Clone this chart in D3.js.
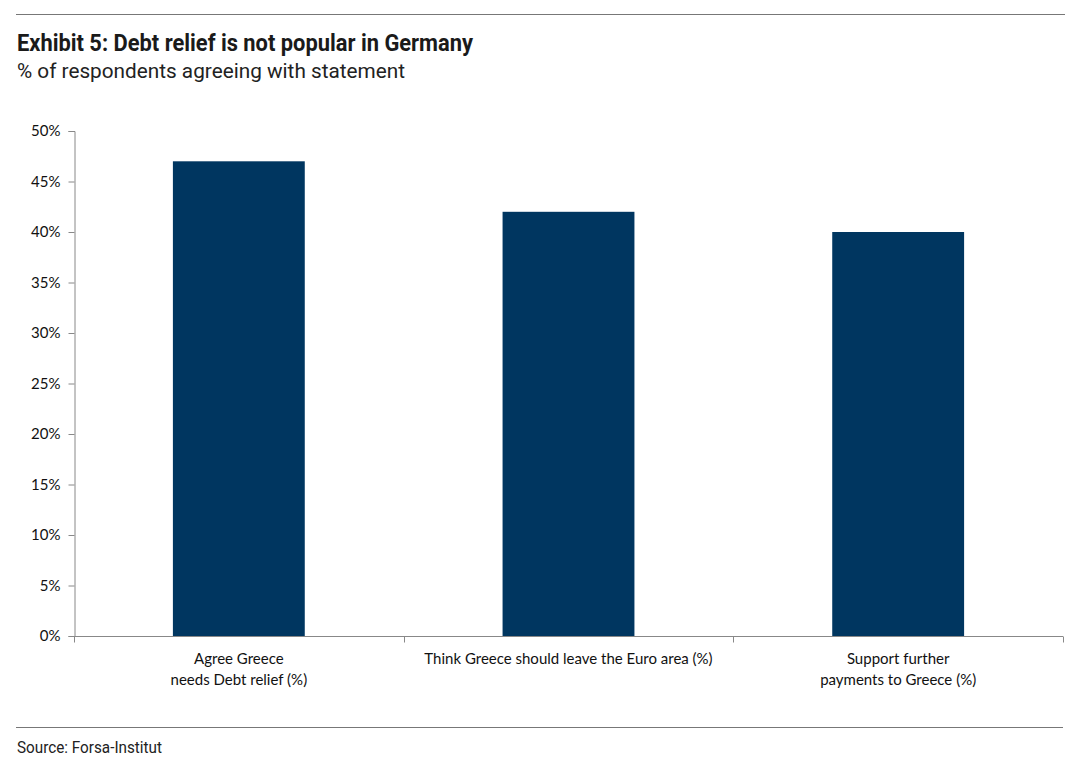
<!DOCTYPE html>
<html>
<head>
<meta charset="utf-8">
<script src="https://cdn.jsdelivr.net/npm/d3@7"></script>
<style>
  body { margin: 0; background: #fff; }
  .cond { font-family: "Liberation Sans Narrow", "Roboto", sans-serif; }
  .lab { font-family: "Lato", "Open Sans", sans-serif; font-size: 15px; fill: #111; }
</style>
</head>
<body>
<svg width="1073" height="774"></svg>
<script>
var categories = [
  ["Agree Greece", "needs Debt relief (%)"],
  ["Think Greece should leave the Euro area (%)"],
  ["Support further", "payments to Greece (%)"]
];
var values = [47, 42, 40];
var yTicks = [0, 5, 10, 15, 20, 25, 30, 35, 40, 45, 50];

var svg = d3.select("svg");
var plotLeft = 74, plotRight = 1063, plotTop = 131, plotBottom = 636;

// frame lines and texts
svg.append("line").attr("x1", 16).attr("x2", 1065).attr("y1", 14.5).attr("y2", 14.5)
  .attr("stroke", "#777").attr("stroke-width", 1);
svg.append("line").attr("x1", 16).attr("x2", 1063).attr("y1", 727.5).attr("y2", 727.5)
  .attr("stroke", "#777").attr("stroke-width", 1);

svg.append("text").attr("class", "cond").attr("x", 17).attr("y", 51)
  .attr("font-size", 23).attr("font-weight", "bold").attr("fill", "#1a1a1a")
  .attr("textLength", 456).attr("lengthAdjust", "spacingAndGlyphs")
  .text("Exhibit 5: Debt relief is not popular in Germany");
svg.append("text").attr("class", "cond").attr("x", 17).attr("y", 78)
  .attr("font-size", 21).attr("fill", "#222")
  .attr("textLength", 388).attr("lengthAdjust", "spacingAndGlyphs")
  .text("% of respondents agreeing with statement");
svg.append("text").attr("class", "cond").attr("x", 17).attr("y", 753)
  .attr("font-size", 17).attr("fill", "#222")
  .attr("textLength", 145).attr("lengthAdjust", "spacingAndGlyphs")
  .text("Source: Forsa-Institut");

var xScale = d3.scaleBand().domain(d3.range(values.length)).range([plotLeft, plotRight]).paddingInner(0).paddingOuter(0);
var yScale = d3.scaleLinear().domain([0, 50]).range([plotBottom, plotTop]);

var g = svg.append("g");

// bars
g.selectAll(".bar")
  .data(values)
  .enter()
  .append("rect")
  .attr("class", "bar")
  .attr("x", function (d, i) { return xScale(i) + xScale.bandwidth() * 0.3; })
  .attr("y", function (d) { return yScale(d); })
  .attr("width", xScale.bandwidth() * 0.4)
  .attr("height", function (d) { return plotBottom - yScale(d); })
  .attr("fill", "#003660");

// y axis
var yAxis = g.append("g")
  .attr("transform", "translate(" + (plotLeft + 0.5) + ",0)")
  .call(d3.axisLeft(yScale).tickValues(yTicks).tickSize(6).tickPadding(8)
    .tickFormat(function (d) { return d + "%"; }));
yAxis.select(".domain").attr("stroke", "#888");
yAxis.selectAll(".tick line").attr("stroke", "#888");
yAxis.selectAll("text").attr("class", "lab").attr("font-size", null).attr("font-family", null);

// x axis
var xAxis = g.append("g")
  .attr("transform", "translate(0," + (plotBottom + 0.5) + ")");
xAxis.append("line").attr("x1", plotLeft).attr("x2", plotRight).attr("stroke", "#888");
xAxis.selectAll(".xt")
  .data(d3.range(values.length + 1))
  .enter()
  .append("line")
  .attr("x1", function (d) { return Math.round(plotLeft + d * xScale.bandwidth()) + 0.5; })
  .attr("x2", function (d) { return Math.round(plotLeft + d * xScale.bandwidth()) + 0.5; })
  .attr("y1", 0).attr("y2", 6).attr("stroke", "#888");

var labels = xAxis.selectAll(".xl")
  .data(categories)
  .enter()
  .append("text")
  .attr("class", "lab")
  .attr("text-anchor", "middle")
  .attr("transform", function (d, i) { return "translate(" + (xScale(i) + xScale.bandwidth() / 2) + ",0)"; });
labels.selectAll("tspan")
  .data(function (d) { return d; })
  .enter()
  .append("tspan")
  .attr("x", 0)
  .attr("y", function (d, i) { return 27 + i * 21; })
  .text(function (d) { return d; });
</script>
</body>
</html>
